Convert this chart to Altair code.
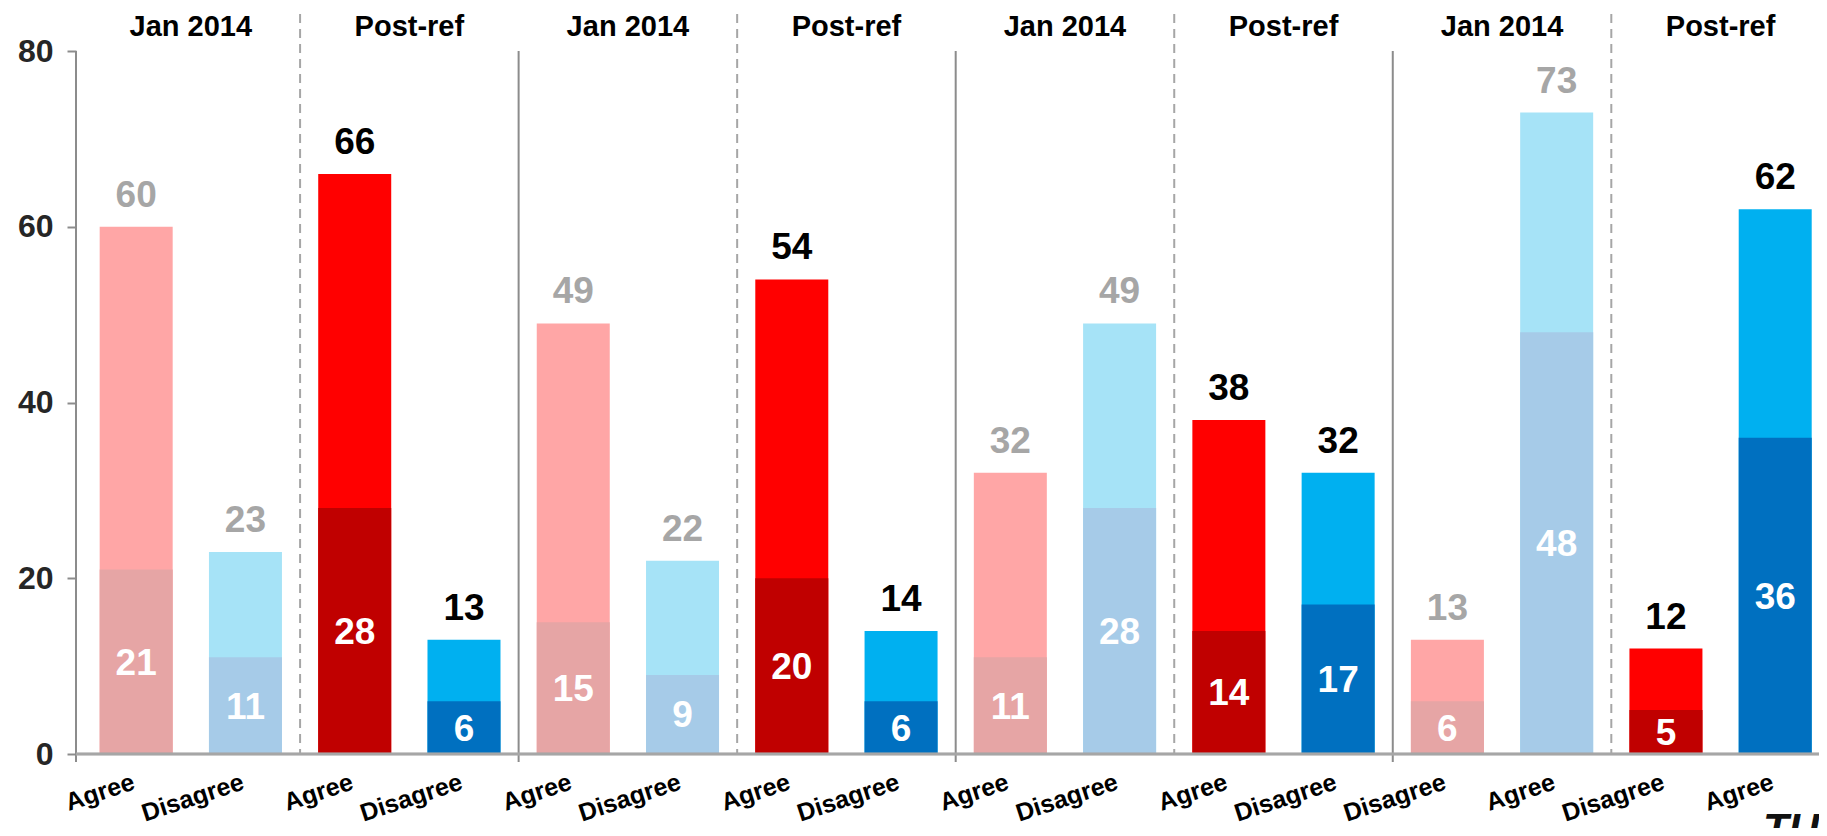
import altair as alt
import pandas as pd

# ---------------- data ----------------
labels = ["Agree", "Disagree", "Agree", "Disagree",
          "Agree", "Disagree", "Agree", "Disagree",
          "Agree", "Disagree", "Agree", "Disagree",
          "Disagree", "Agree", "Disagree", "Agree"]
periods = ["Jan 2014", "Jan 2014", "Post-ref", "Post-ref"] * 4
sides = ["red", "blue", "red", "blue"] * 4
totals = [60, 23, 66, 13,
          49, 22, 54, 14,
          32, 49, 38, 32,
          13, 73, 12, 62]
inner = [21, 11, 28, 6,
         15, 9, 20, 6,
         11, 28, 14, 17,
         6, 48, 5, 36]
headers = ["Jan 2014", "Post-ref"] * 4
y_ticks = [0, 20, 40, 60, 80]
logo = ["TU"]

# ---------------- tables ----------------
n = len(totals)
bars = pd.DataFrame({
    "idx": list(range(n)),
    "label": labels,
    "period": periods,
    "side": sides,
    "total": totals,
    "inner": inner,
})
bars["outer_key"] = bars["period"] + "|" + bars["side"] + "|outer"
bars["inner_key"] = bars["period"] + "|" + bars["side"] + "|inner"
bars["text_key"] = bars["period"] + "|text"

head_df = pd.DataFrame({"text": headers, "pos": [2 * k + 0.5 for k in range(len(headers))]})
dashed_df = pd.DataFrame({"pos": [4 * g + 1.5 for g in range(n // 4)]})
solid_df = pd.DataFrame({"pos": [4 * g + 3.5 for g in range(n // 4 - 1)]})
logo_df = pd.DataFrame({"text": logo})

FONT = "Liberation Sans, Arial, Helvetica, sans-serif"
W, H = 1743, 703

xs = alt.Scale(domain=[-0.505, 15.355], nice=False, zero=False)
ys = alt.Scale(domain=[0, 80], nice=False, zero=True)

color_domain = [
    "Jan 2014|red|outer", "Jan 2014|red|inner",
    "Jan 2014|blue|outer", "Jan 2014|blue|inner",
    "Post-ref|red|outer", "Post-ref|red|inner",
    "Post-ref|blue|outer", "Post-ref|blue|inner",
    "Jan 2014|text", "Post-ref|text",
]
color_range = [
    "#FFA6A6", "#E6A5A5",
    "#A6E3F7", "#A6CBE8",
    "#FF0000", "#C00000",
    "#00B0F0", "#0070C0",
    "#A6A6A6", "#000000",
]
cs = alt.Scale(domain=color_domain, range=color_range)

X = alt.X("idx:Q", scale=xs, axis=None)

y_axis = alt.Axis(
    values=y_ticks, title=None, grid=False, domain=False,
    labelFont=FONT, labelFontSize=32, labelFontWeight="bold", labelColor="#262626",
    tickColor="#8C8C8C", tickWidth=2, tickSize=9, labelPadding=14,
)

# separators
dashed = alt.Chart(dashed_df).mark_rule(
    color="#A6A6A6", strokeWidth=2, strokeDash=[9, 6]
).encode(
    x=alt.X("pos:Q", scale=xs, axis=None),
    y=alt.value(-37), y2=alt.value(H),
)
solid = alt.Chart(solid_df).mark_rule(color="#8C8C8C", strokeWidth=2).encode(
    x=alt.X("pos:Q", scale=xs, axis=None),
    y=alt.value(0), y2=alt.value(H + 8),
)
y_line = alt.Chart(solid_df).mark_rule(color="#8C8C8C", strokeWidth=2).encode(
    x=alt.value(0), y=alt.value(0), y2=alt.value(H + 8),
)
base_line = alt.Chart(solid_df).mark_rule(color="#A6A6A6", strokeWidth=2.5).encode(
    x=alt.value(0), x2=alt.value(W), y=alt.value(H),
)

outer_bars = alt.Chart(bars).mark_bar(size=73).encode(
    x=X,
    y=alt.Y("total:Q", scale=ys, stack=None, axis=y_axis),
    color=alt.Color("outer_key:N", scale=cs, legend=None),
)
inner_bars = alt.Chart(bars).mark_bar(size=73).encode(
    x=X,
    y=alt.Y("inner:Q", scale=ys, stack=None),
    color=alt.Color("inner_key:N", scale=cs, legend=None),
)

total_text = alt.Chart(bars).mark_text(
    font=FONT, fontSize=37, fontWeight="bold", baseline="alphabetic", dy=-20
).encode(
    x=X,
    y=alt.Y("total:Q", scale=ys, stack=None),
    text="total:Q",
    color=alt.Color("text_key:N", scale=cs, legend=None),
)

inner_text = alt.Chart(bars).transform_calculate(
    mid="datum.inner / 2"
).mark_text(
    font=FONT, fontSize=37, fontWeight="bold", baseline="middle", color="white", dy=2
).encode(
    x=X,
    y=alt.Y("mid:Q", scale=ys),
    text="inner:Q",
)

cat_text = alt.Chart(bars).mark_text(
    font=FONT, fontSize=25, fontWeight="bold", align="right",
    baseline="alphabetic", angle=342, color="black",
).encode(
    x=X,
    y=alt.value(H + 35),
    text="label:N",
)

head_text = alt.Chart(head_df).mark_text(
    font=FONT, fontSize=29, fontWeight="bold", baseline="alphabetic", color="black",
).encode(
    x=alt.X("pos:Q", scale=xs, axis=None),
    y=alt.value(-15),
    text="text:N",
)

logo_text = alt.Chart(logo_df).mark_text(
    font=FONT, fontSize=42, fontWeight="bold", fontStyle="italic",
    align="left", baseline="alphabetic", color="#111111",
).encode(
    x=alt.value(1687), y=alt.value(792), text="text:N",
)

chart = alt.layer(
    dashed, solid, y_line, outer_bars, inner_bars, base_line,
    total_text, inner_text, cat_text, head_text, logo_text,
).properties(
    width=W, height=H,
    autosize=alt.AutoSizeParams(type="none"),
    padding={"left": 68, "top": 43, "right": 0, "bottom": 74},
).configure_view(stroke=None)

chart.save("out.html", embed_options={"renderer": "svg", "actions": False})
